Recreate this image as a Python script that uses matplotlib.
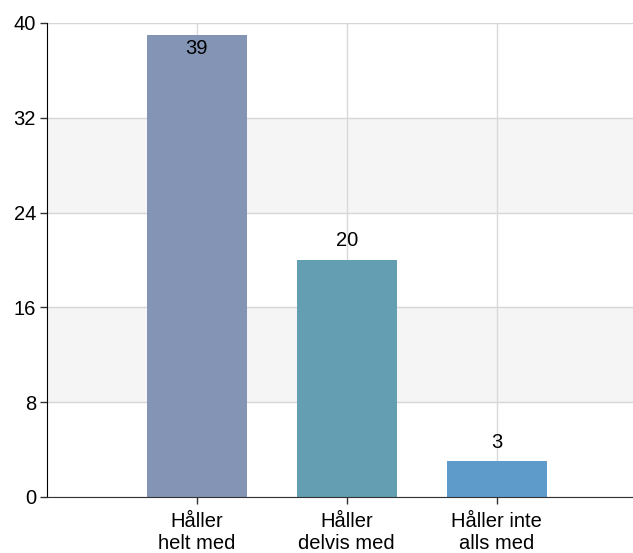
import matplotlib
matplotlib.use("Agg")
import matplotlib.pyplot as plt

categories = ["Håller\nhelt med", "Håller\ndelvis med", "Håller inte\nalls med"]
values = [39, 20, 3]
colors = ["#8394b5", "#639eb3", "#5e9bca"]
yticks = [0, 8, 16, 24, 32, 40]

plt.rcParams['font.family'] = ['Liberation Sans', 'DejaVu Sans']
FS = 14.5

fig = plt.figure(figsize=(6.33, 5.53), dpi=100)
ax = fig.add_axes([47/633, 1-497/553, 1-47/633, (497-23)/553])

x = list(range(len(categories)))
# alternating bands
for i in range(len(yticks) - 1):
    if i % 2 == 1:
        ax.axhspan(yticks[i], yticks[i+1], color="#f5f5f5", zorder=0, lw=0)
for y in yticks:
    ax.axhline(y, color="#d6d6d6", lw=1, zorder=1)
for xi in x:
    ax.axvline(xi, color="#d9d9d9", lw=1, zorder=1)

bars = ax.bar(x, values, width=0.667, color=colors, zorder=2)
for xi, v in zip(x, values):
    if v > 36:
        ax.annotate(str(v), (xi, v), xytext=(0, -3), textcoords="offset points",
                    ha="center", va="top", fontsize=FS, zorder=3)
    else:
        ax.annotate(str(v), (xi, v), xytext=(0, 7), textcoords="offset points",
                    ha="center", va="bottom", fontsize=FS, zorder=3)

ax.set_xlim(-1, 2.91)
ax.set_ylim(0, 40)
ax.set_yticks(yticks)
ax.set_xticks(x)
ax.set_xticklabels(categories, fontsize=FS, linespacing=1.2)
ax.tick_params(axis="y", labelsize=FS, length=5, width=1, color="#333333", pad=3)
ax.tick_params(axis="x", length=5, width=1, color="#333333", pad=6)
for s in ["top", "right"]:
    ax.spines[s].set_visible(False)
ax.spines["left"].set_color("#000000")
ax.spines["bottom"].set_color("#333333")
ax.spines["left"].set_zorder(4)
ax.spines["bottom"].set_zorder(4)

fig.savefig("out.png", dpi=100)
